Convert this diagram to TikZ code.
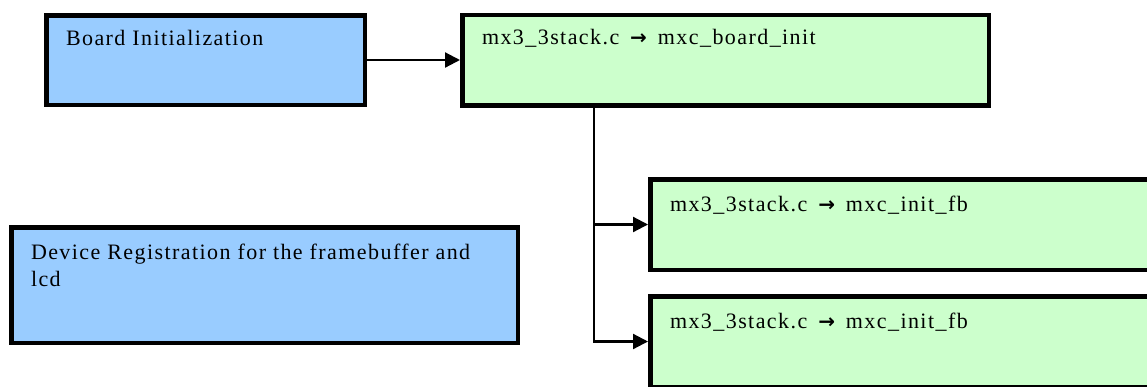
\documentclass[tikz,border=0pt]{standalone}
\usepackage{fontspec}
\setmainfont{Liberation Serif}[LetterSpace=6.5]
\newfontfamily\arrowfont{DejaVu Sans}
\usetikzlibrary{positioning,arrows.meta}
\definecolor{initblue}{HTML}{99CCFF}
\definecolor{callgreen}{HTML}{CCFFCC}
\tikzstyle{stage} = [rectangle, draw, line width=4.5pt, fill=initblue, inner sep=0pt, minimum height=89.5pt]
\tikzstyle{call} = [rectangle, draw, line width=4.5pt, fill=callgreen, inner sep=0pt, minimum width=526.5pt, minimum height=90.5pt]
\tikzstyle{caption} = [draw=none, fill=none, anchor=base west, inner sep=0pt, outer sep=0pt, align=left, font=\fontsize{22}{27}\selectfont, xshift=22pt, yshift=-32pt]
\newcommand{\callarrow}{\hspace{4pt}{\arrowfont\bfseries\fontsize{20}{27}\selectfont →}\hspace{4pt}}

\begin{document}
\begin{tikzpicture}[x=1pt, y=1pt, node distance=93pt, >={Triangle[length=15pt, width=15pt]}]
   \useasboundingbox (0,0) rectangle (1147,-386);
   \clip (0,0) rectangle (1147,-386);
   % nodes
   \node[stage, minimum width=318.5pt, anchor=north west, label={[caption]north west:Board Initialization}] (board) at (44,-13) {};
   \node[call, label={[caption]north west:mx3\_3stack.c \callarrow{} mxc\_board\_init}] (boardinit) [right=of board] {};
   \node[call, anchor=north west, label={[caption, yshift=-2pt]north west:mx3\_3stack.c \callarrow{} mxc\_init\_fb}] (initfb) at (648,-177) {};
   \node[call, label={[caption, yshift=-2pt]north west:mx3\_3stack.c \callarrow{} mxc\_init\_fb}] (initfbb) [below=22pt of initfb] {};
   \node[stage, minimum width=506.5pt, minimum height=115.5pt, anchor=north west, label={[caption, yshift=-29pt]north west:Device Registration for the framebuffer and\\lcd}] (devreg) at (9,-225) {};

   % edges
   \coordinate (split) at ([xshift=134pt]boardinit.south west);
   \draw[->, line width=2.2pt] (board) -- (boardinit);
   \draw[->, line width=2.2pt] (split) |- (initfb);
   \draw[->, line width=2.2pt] (split) |- (initfbb);
\end{tikzpicture}
\end{document}
